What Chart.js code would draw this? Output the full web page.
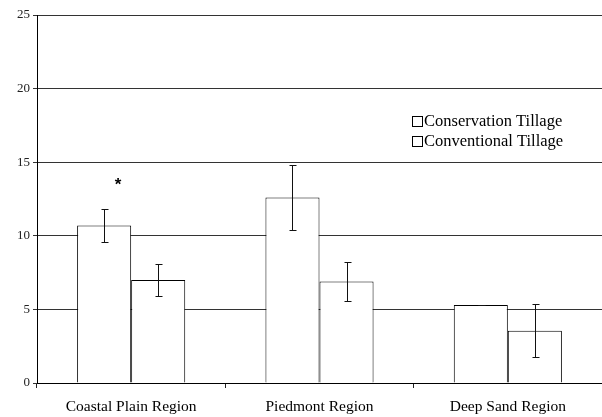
<!DOCTYPE html>
<html lang="en">
  <head>
    <meta charset="UTF-8" />
    <title>Tillage by region</title>
    <script src="https://cdn.jsdelivr.net/npm/chart.js"></script>
    <style>
      body { margin: 0; background: #fff; }
      .box { width: 602px; height: 417px; position: relative; }
    </style>
  </head>
  <body>
    <div class="box">
      <canvas id="grafico"></canvas>
    </div>
  </body>
</html>

<script>
  // dados
  const regioes = ["Coastal Plain Region", "Piedmont Region", "Deep Sand Region"];
  const conservacao = [10.7, 12.6, 5.3];
  const conservacaoErro = [1.15, 2.2, 0.03];
  const convencional = [7.0, 6.9, 3.55];
  const convencionalErro = [1.1, 1.35, 1.8];
  const rotulos = ["Conservation Tillage", "Conventional Tillage"];
  const marcaSignificancia = ["*", "", ""];

  const serif = "'Liberation Serif', 'Times New Roman', serif";

  // barras de erro desenhadas por cima das barras
  const errorBars = {
    id: "errorBars",
    afterDatasetsDraw(chart) {
      const ctx = chart.ctx;
      const y = chart.scales.y;
      const erros = [conservacaoErro, convencionalErro];
      ctx.save();
      ctx.strokeStyle = "#111";
      ctx.lineWidth = 1;
      chart.data.datasets.forEach(function (ds, d) {
        const meta = chart.getDatasetMeta(d);
        meta.data.forEach(function (bar, i) {
          const v = ds.data[i];
          const e = erros[d][i];
          const x = Math.round(bar.x) + 0.5;
          const yTop = Math.round(y.getPixelForValue(v + e)) + 0.5;
          const yBot = Math.round(y.getPixelForValue(v - e)) + 0.5;
          ctx.beginPath();
          ctx.moveTo(x, yTop);
          ctx.lineTo(x, yBot);
          ctx.moveTo(x - 3, yTop);
          ctx.lineTo(x + 4, yTop);
          ctx.moveTo(x - 3, yBot);
          ctx.lineTo(x + 4, yBot);
          ctx.stroke();
        });
      });
      // asterisco de significancia
      const meta0 = chart.getDatasetMeta(0);
      ctx.fillStyle = "#000";
      ctx.font = "bold 17px 'Liberation Sans', Arial, sans-serif";
      ctx.textAlign = "center";
      ctx.textBaseline = "middle";
      marcaSignificancia.forEach(function (m, i) {
        if (!m) return;
        const bar = meta0.data[i];
        const topo = conservacao[i] + conservacaoErro[i];
        ctx.fillText(m, bar.x + 14, y.getPixelForValue(topo + 1.6));
      });
      ctx.restore();
    },
  };

  // legenda dentro da area do grafico
  const legendaInterna = {
    id: "legendaInterna",
    afterDraw(chart) {
      const ctx = chart.ctx;
      const area = chart.chartArea;
      const x0 = area.right - 190;
      const y0 = area.top + 106;
      ctx.save();
      ctx.font = "16.5px " + serif;
      ctx.textBaseline = "middle";
      chart.data.datasets.forEach(function (ds, i) {
        const yy = y0 + i * 20;
        const by = Math.round(yy - 5) + 0.5;
        ctx.fillStyle = "#fff";
        ctx.fillRect(x0 + 0.5, by, 10, 10);
        ctx.strokeStyle = "#000";
        ctx.lineWidth = 1;
        ctx.strokeRect(x0 + 0.5, by, 10, 10);
        ctx.fillStyle = "#000";
        ctx.fillText(ds.label, x0 + 12, yy + 1);
      });
      ctx.restore();
    },
  };

  const config = {
    type: "bar",
    data: {
      labels: regioes,
      datasets: [
        {
          label: rotulos[0],
          data: conservacao,
          backgroundColor: "#fff",
          borderColor: "#000",
          borderWidth: 1,
          categoryPercentage: 0.574,
          barPercentage: 1,
        },
        {
          label: rotulos[1],
          data: convencional,
          backgroundColor: "#fff",
          borderColor: "#000",
          borderWidth: 1,
          categoryPercentage: 0.574,
          barPercentage: 1,
        },
      ],
    },
    options: {
      responsive: true,
      maintainAspectRatio: false,
      animation: false,
      layout: { padding: { top: 15, right: 0, left: 0, bottom: 0 } },
      plugins: {
        legend: { display: false },
        tooltip: { enabled: false },
      },
      scales: {
        x: {
          grid: {
            offset: true,
            drawOnChartArea: false,
            tickLength: 5,
            color: "#222",
          },
          border: { color: "#000" },
          ticks: {
            color: "#000",
            font: { family: serif, size: 15.5 },
            padding: 10,
            maxRotation: 0,
          },
          afterFit(scale) {
            scale.height = 34;
          },
        },
        y: {
          min: 0,
          max: 25,
          ticks: {
            stepSize: 5,
            color: "#222",
            font: { family: serif, size: 13 },
            padding: 3,
          },
          grid: { color: "#333", tickLength: 4 },
          border: { color: "#000" },
          afterFit(scale) {
            scale.width = 37;
          },
        },
      },
    },
    plugins: [errorBars, legendaInterna],
  };

  new Chart(document.getElementById("grafico"), config);
</script>
